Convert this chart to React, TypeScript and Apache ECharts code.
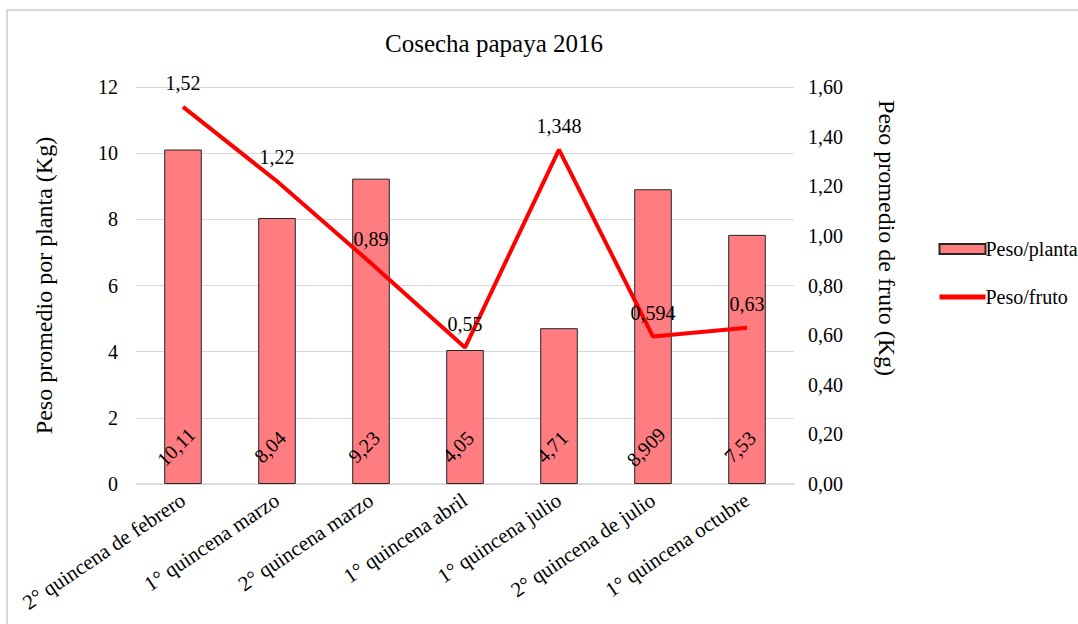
import React, { useEffect, useRef } from "react";
import * as echarts from "echarts";

const categories = [
  "2° quincena de febrero",
  "1° quincena marzo",
  "2° quincena marzo",
  "1° quincena abril",
  "1° quincena julio",
  "2° quincena de julio",
  "1° quincena octubre",
];
const pesoPlanta = [10.11, 8.04, 9.23, 4.05, 4.71, 8.909, 7.53];
const pesoFruto = [1.52, 1.22, 0.89, 0.55, 1.348, 0.594, 0.63];

const FONT = "Liberation Serif";
const comma = (v: number) => String(v).replace(".", ",");

export default function App() {
  const ref = useRef<HTMLDivElement>(null);
  useEffect(() => {
    const chart = echarts.init(ref.current!, null, { renderer: "svg" });
    chart.setOption({
      animation: false,
      textStyle: { fontFamily: FONT, color: "#000" },
      title: {
        text: "Cosecha papaya 2016",
        left: 489,
        top: 26,
        textAlign: "center",
        textStyle: { fontFamily: FONT, fontSize: 25, fontWeight: "normal", color: "#000" },
      },
      graphic: [
        {
          type: "rect",
          shape: { x: 7, y: 10, width: 1100, height: 700 },
          style: { fill: "none", stroke: "#d9d9d9", lineWidth: 2 },
          silent: true,
        },
        {
          type: "text",
          x: 887,
          y: 238,
          rotation: -Math.PI / 2,
          style: {
            text: "Peso promedio de fruto (Kg)",
            fontFamily: FONT,
            fontSize: 24,
            fill: "#000",
            align: "center",
            verticalAlign: "middle",
          },
        },
      ],
      legend: {
        orient: "vertical",
        left: 932,
        top: 234,
        itemGap: 28,
        itemWidth: 46,
        itemHeight: 10,
        textStyle: { fontFamily: FONT, fontSize: 20, color: "#000", padding: [0, 0, 0, -5] },
        data: [
          { name: "Peso/planta", icon: "rect" },
          { name: "Peso/fruto", itemStyle: { opacity: 0 }, lineStyle: { width: 5 } },
        ],
      },
      grid: { left: 136, right: 284, top: 87, bottom: 140 },
      xAxis: {
        type: "category",
        data: categories,
        axisTick: { show: false },
        axisLine: { lineStyle: { color: "#d9d9d9", width: 1.5 } },
        axisLabel: {
          rotate: 34,
          fontFamily: FONT,
          fontSize: 21,
          color: "#000",
          margin: 14,
          interval: 0,
        },
      },
      yAxis: [
        {
          type: "value",
          min: 0,
          max: 12,
          interval: 2,
          name: "Peso promedio por planta (Kg)",
          nameLocation: "middle",
          nameGap: 80,
          nameTextStyle: { fontFamily: FONT, fontSize: 24, color: "#000" },
          axisLabel: { fontFamily: FONT, fontSize: 20, color: "#000", margin: 18 },
          splitLine: { lineStyle: { color: "#d9d9d9" } },
          axisLine: { show: false },
          axisTick: { show: false },
        },
        {
          type: "value",
          min: 0,
          max: 1.6,
          interval: 0.2,
          axisLabel: {
            fontFamily: FONT,
            fontSize: 20,
            color: "#000",
            margin: 14,
            formatter: (v: number) => v.toFixed(2).replace(".", ","),
          },
          splitLine: { show: false },
          axisLine: { show: false },
          axisTick: { show: false },
        },
      ],
      series: [
        {
          name: "Peso/planta",
          type: "bar",
          data: pesoPlanta,
          barWidth: "40%",
          itemStyle: { color: "#FF7C80", borderColor: "#262626", borderWidth: 1 },
          label: {
            show: true,
            position: "insideBottom",
            rotate: 45,
            distance: 30,
            fontFamily: FONT,
            fontSize: 20,
            color: "#000",
            formatter: (p: any) => comma(p.value),
          },
        },
        {
          name: "Peso/fruto",
          type: "line",
          yAxisIndex: 1,
          data: pesoFruto,
          symbol: "circle",
          symbolSize: 0,
          showSymbol: true,
          lineStyle: { color: "#FF0000", width: 4 },
          itemStyle: { color: "#FF0000" },
          label: {
            show: true,
            position: "top",
            distance: 14,
            fontFamily: FONT,
            fontSize: 20,
            color: "#000",
            formatter: (p: any) => comma(p.value),
          },
        },
      ],
    });
    return () => chart.dispose();
  }, []);
  return (
    <div
      ref={ref}
      style={{ position: "absolute", left: 0, top: 0, width: 1078, height: 624, background: "#fff" }}
    />
  );
}
